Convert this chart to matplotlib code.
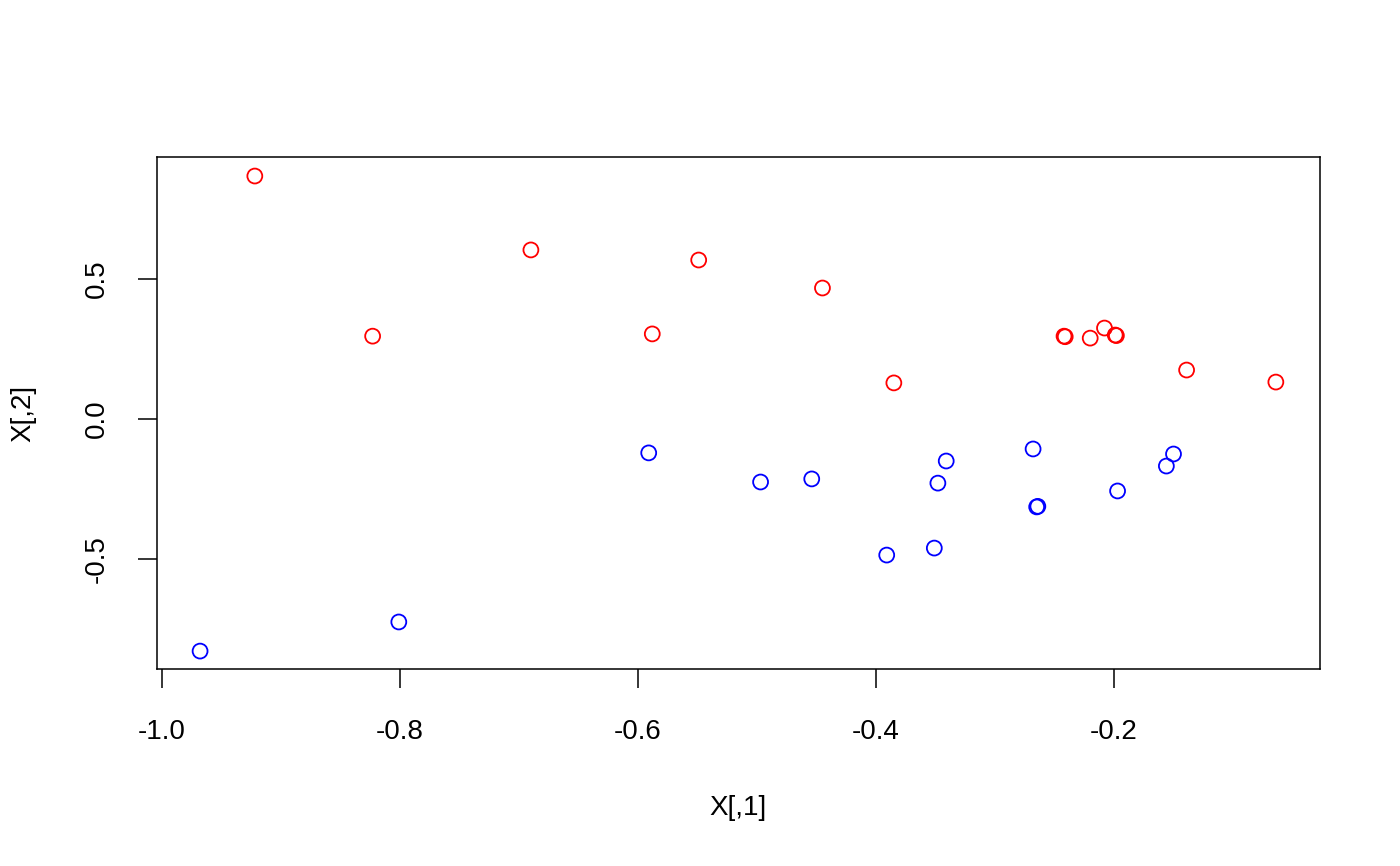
import matplotlib
matplotlib.use("Agg")
import matplotlib.pyplot as plt

plt.rcParams['font.family'] = ['Liberation Sans', 'DejaVu Sans']

red_x = [-0.922, -0.823, -0.690, -0.549, -0.588, -0.445, -0.385, -0.242, -0.241,
         -0.220, -0.208, -0.199, -0.198, -0.139, -0.064]
red_y = [0.868, 0.296, 0.604, 0.568, 0.304, 0.468, 0.129, 0.296, 0.294,
         0.289, 0.325, 0.300, 0.298, 0.175, 0.132]

blue_x = [-0.968, -0.801, -0.591, -0.497, -0.454, -0.391, -0.351, -0.348, -0.341,
          -0.268, -0.265, -0.264, -0.197, -0.156, -0.150]
blue_y = [-0.829, -0.725, -0.121, -0.225, -0.214, -0.486, -0.461, -0.229, -0.150,
          -0.107, -0.314, -0.312, -0.257, -0.168, -0.125]

xticks = [-1.0, -0.8, -0.6, -0.4, -0.2]
yticks = [-0.5, 0.0, 0.5]

fig = plt.figure(figsize=(14, 8.66), dpi=100)
ax = fig.add_axes([157/1400, 1 - 669/866, (1320 - 157)/1400, (669 - 157)/866])

ax.scatter(red_x, red_y, s=115, facecolors='none', edgecolors='#ff0000', linewidths=1.3)
ax.scatter(blue_x, blue_y, s=115, facecolors='none', edgecolors='#0000ff', linewidths=1.3)

ax.set_xlim(-1.0042, -0.0269)
ax.set_ylim(-0.893, 0.936)
ax.set_xticks(xticks)
ax.set_xticklabels(['-1.0', '-0.8', '-0.6', '-0.4', '-0.2'])
ax.set_yticks(yticks)
ax.set_yticklabels(['-0.5', '0.0', '0.5'], rotation=90, va='center')

for s in ax.spines.values():
    s.set_linewidth(1.1)
    s.set_color('black')

ax.tick_params(axis='both', length=14, width=1.1, labelsize=20, color='black')
ax.tick_params(axis='x', pad=22)
ax.tick_params(axis='y', pad=20)

ax.set_xlabel('X[,1]', fontsize=20, labelpad=36)
ax.set_ylabel('X[,2]', fontsize=20, labelpad=34)

fig.savefig('out.png', dpi=100)
